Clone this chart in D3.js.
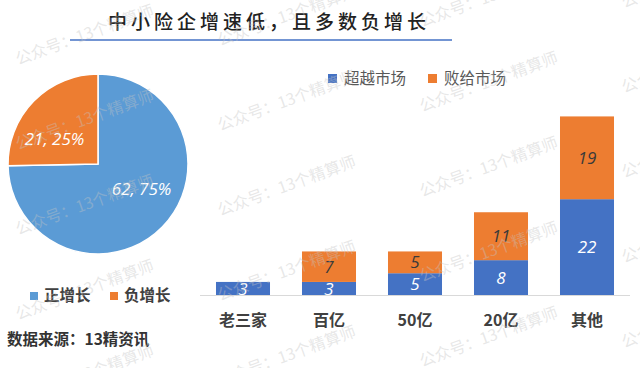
<!DOCTYPE html>
<html><head><meta charset="utf-8">
<script src="https://cdn.jsdelivr.net/npm/d3@7"></script>
<style>html,body{margin:0;padding:0;background:#fff;}svg{display:block;}</style>
</head><body>
<svg id="c" width="640" height="368"></svg>
<script>
const titleText = "中小险企增速低，且多数负增长";
const categories = ["老三家", "百亿", "50亿", "20亿", "其他"];
const beatValues = [3, 3, 5, 8, 22];
const loseValues = [0, 7, 5, 11, 19];
const seriesNames = ["超越市场", "败给市场"];
const pieNames = ["正增长", "负增长"];
const pieValues = [62, 21];
const sourceText = "数据来源：13精资讯";
const watermarkText = "公众号：13个精算师";

const FONT = "'Noto Sans CJK SC','Noto Sans',sans-serif";
const svg = d3.select("#c").style("font-family", FONT);

// Title
svg.append("text").attr("x", 269).attr("y", 29).attr("text-anchor", "middle")
  .attr("font-size", 19).attr("font-weight", 500).attr("letter-spacing", 4).attr("fill", "#222")
  .text(titleText);
svg.append("line").attr("x1", 70).attr("x2", 452).attr("y1", 40).attr("y2", 40)
  .attr("stroke", "#4472C4").attr("stroke-width", 1.3);

// Pie
const pieColors = ["#5B9BD5", "#ED7D31"];
const total = d3.sum(pieValues);
const pieG = svg.append("g").attr("transform", "translate(98,164)");
const arcs = d3.pie().sort(null)(pieValues);
const arc = d3.arc().innerRadius(0).outerRadius(90);
pieG.selectAll("path").data(arcs).join("path")
  .attr("d", arc).attr("fill", (d, i) => pieColors[i])
  .attr("stroke", "#fff").attr("stroke-width", 1.5);
pieG.selectAll("text.pl").data(arcs).join("text").attr("class", "pl")
  .attr("transform", d => {
    const a = (d.startAngle + d.endAngle) / 2 - 0.26;
    const r = 50;
    return `translate(${r * Math.sin(a)},${-r * Math.cos(a)})`;
  })
  .attr("text-anchor", "middle").attr("dy", "0.35em")
  .attr("font-size", 17).attr("font-style", "italic").attr("fill", "#fff")
  .attr("font-family", "'Open Sans','Noto Sans',sans-serif")
  .text(d => `${d.data}, ${Math.round(d.data / total * 100)}%`);

// Pie legend
const pl = svg.append("g");
const plx = [30, 110];
pieNames.forEach((n, i) => {
  pl.append("rect").attr("x", plx[i]).attr("y", 292).attr("width", 8).attr("height", 8).attr("fill", pieColors[i]);
  pl.append("text").attr("x", plx[i] + 14).attr("y", 296).attr("dy", "0.35em")
    .attr("font-size", 15.5).attr("font-weight", "bold").attr("fill", "#404040").text(n);
});
svg.append("text").attr("x", 7).attr("y", 340).attr("dy", "0.35em")
  .attr("font-size", 15.5).attr("font-weight", "bold").attr("fill", "#333").text(sourceText);

// Bar chart
const barColors = ["#4472C4", "#ED7D31"];
const x = d3.scaleBand().domain(categories).range([200, 630]).paddingInner(0.372).paddingOuter(0.186);
const y = d3.scaleLinear().domain([0, 45]).range([295, 99]);
const stackData = categories.map((c, i) => ({ cat: c, beat: beatValues[i], lose: loseValues[i] }));
const series = d3.stack().keys(["beat", "lose"])(stackData);
const bg = svg.append("g");
series.forEach((s, si) => {
  bg.selectAll(null).data(s).join("rect")
    .attr("x", d => x(d.data.cat)).attr("width", x.bandwidth())
    .attr("y", d => y(d[1])).attr("height", d => y(d[0]) - y(d[1]))
    .attr("fill", barColors[si]);
  bg.selectAll(null).data(s.filter(d => d[1] - d[0] > 0)).join("text")
    .attr("x", d => x(d.data.cat) + x.bandwidth() / 2)
    .attr("y", d => (y(d[0]) + y(d[1])) / 2).attr("dy", "0.36em")
    .attr("text-anchor", "middle").attr("font-size", 17).attr("font-style", "italic")
    .attr("font-family", "'Open Sans','Noto Sans',sans-serif")
    .attr("fill", si === 0 ? "#fff" : "#3a3a3a")
    .text(d => d[1] - d[0]);
});
svg.append("line").attr("x1", 200).attr("x2", 630).attr("y1", y(0) + 0.5).attr("y2", y(0) + 0.5)
  .attr("stroke", "#d9d9d9").attr("stroke-width", 1);
const xAxis = svg.append("g").attr("transform", `translate(0,${y(0)})`)
  .call(d3.axisBottom(x).tickSize(0).tickPadding(20));
xAxis.select(".domain").remove();
xAxis.selectAll("text").attr("font-size", 16).attr("font-weight", "bold")
  .attr("fill", "#404040").attr("font-family", FONT);

// Bar legend
const lx = [328, 428];
seriesNames.forEach((n, i) => {
  svg.append("rect").attr("x", lx[i]).attr("y", 74).attr("width", 9).attr("height", 9).attr("fill", barColors[i]);
  svg.append("text").attr("x", lx[i] + 16).attr("y", 78.5).attr("dy", "0.35em")
    .attr("font-size", 15.5).attr("fill", "#595959").text(n);
});

// Watermarks
const wm = svg.append("g").attr("pointer-events", "none");
for (let k = -1; k <= 3; k++) {
  for (let j = -1; j <= 4; j++) {
    const wx = 18 + 202 * k, wy = 65 + 85 * j - 19 * k;
    wm.append("text").attr("transform", `translate(${wx},${wy}) rotate(-20)`)
      .attr("font-size", 16).attr("fill", "#c4c4c4").attr("fill-opacity", 0.4)
      .text(watermarkText);
  }
}
</script>
</body></html>
